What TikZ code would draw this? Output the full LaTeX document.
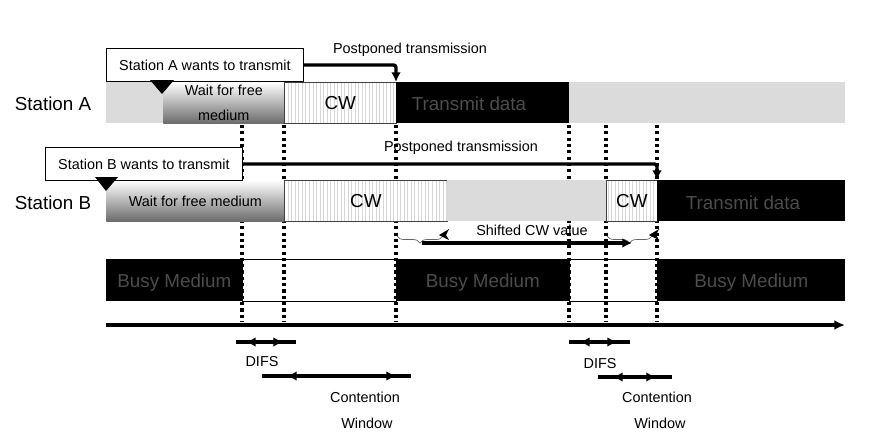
\documentclass[tikz,border=0pt]{standalone}
\usepackage{fontspec}
\setmainfont{Liberation Sans}
\usetikzlibrary{arrows.meta,patterns.meta,decorations.pathreplacing}

\begin{document}
\begin{tikzpicture}[x=0.02cm, y=-0.02cm,
        small/.style = {font=\fontsize{8.2}{10}\selectfont},
        big/.style = {font=\fontsize{10.7}{13}\selectfont},
        box/.style = {anchor=north west, inner sep=0, minimum height=0.82cm},
        bg/.style = {box, fill=black!14},
        wait/.style = {box, top color=white, bottom color=black!58, small},
        cw/.style = {box, draw=black!75, line width=0.4pt, preaction={fill=white},
                pattern={Lines[angle=90,distance=2pt,line width=0.25pt]}, pattern color=black!16, big},
        data/.style = {box, fill=black},
        busy/.style = {box, minimum height=0.84cm, fill=black, text=black!70, big, text depth=-1pt},
        idle/.style = {box, minimum height=0.84cm, draw, line width=0.4pt},
        want/.style = {anchor=north west, draw, fill=white, line width=0.5pt, inner sep=0,
                minimum width=3.94cm, minimum height=0.66cm, small},
        post/.style = {line width=1.9pt, rounded corners=1.5pt, -{Latex[length=5.5pt,width=5.5pt]}},
        vline/.style = {line width=1.9pt, dash pattern=on 1.8pt off 1.8pt},
        dim/.style = {line width=1.9pt},
        tips/.style = {line width=1.9pt, {Latex[length=5.5pt,width=5.5pt]}-{Latex[length=5.5pt,width=5.5pt]}},
        curly/.style = {decorate, decoration={brace, amplitude=4pt, mirror}, draw=black!60, line width=0.4pt},
        ]
        \useasboundingbox (0,0) rectangle (878,440);

        % medium
        \node[busy, minimum width=2.72cm](busy1) at (106,259) {Busy Medium};
        \node[idle, minimum width=3.08cm](idle1) at (242,259) {};
        \node[busy, minimum width=3.46cm](busy2) at (396,259) {Busy Medium};
        \node[idle, minimum width=1.76cm](idle2) at (569,259) {};
        \node[busy, minimum width=3.76cm](busy3) at (657,259) {Busy Medium};

        % slot borders
        \draw[vline] (242,125) -- (242,322);
        \draw[vline] (284,125) -- (284,322);
        \draw[vline] (396,125) -- (396,322);
        \draw[vline] (569,125) -- (569,322);
        \draw[vline] (606,125) -- (606,322);
        \draw[vline] (657,125) -- (657,322);

        % station A
        \node[big](labA) at (53,104) {Station A};
        \node[bg, minimum width=14.78cm](bgA) at (106,82) {};
        \node[wait, minimum width=2.42cm, align=center, font=\fontsize{8.2}{14.7}\selectfont](waitA) at (163,82) {Wait for free\\medium};
        \node[cw, minimum width=2.24cm](cwA) at (284,82) {CW};
        \node[data, minimum width=3.46cm](datA) at (396,82) {};
        \node[big, text=black!70](txA) at (469,104) {Transmit data};

        % station B
        \node[big](labB) at (53,203) {Station B};
        \node[wait, minimum width=3.56cm](waitB) at (106,180) {Wait for free medium};
        \node[cw, minimum width=3.26cm](cwB) at (284,180) {CW};
        \node[bg, minimum width=3.18cm](gapB) at (447,180) {};
        \node[cw, minimum width=1.02cm](cwB2) at (606,180) {CW};
        \node[data, minimum width=3.76cm](datB) at (657,180) {};
        \node[big, text=black!70](txB) at (743,203) {Transmit data};

        % requests
        \node[want](wantA) at (106,48) {Station A wants to transmit};
        \node[want](wantB) at (45,147) {Station B wants to transmit};
        \fill (150,80) -- (174,80) -- (162,94) -- cycle;
        \fill (95,177) -- (118,177) -- (106,191) -- cycle;

        \draw[post] (wantA.east) -| (datA.north west);
        \node[small](postA) at (410,50) {Postponed transmission};
        \draw[post] (wantB.east) -| (datB.north west);
        \node[small](postB) at (461,148) {Postponed transmission};

        % shifted contention window
        \draw[curly] (397,236) -- (443,236);
        \draw[curly] (607,236) -- (652,236);
        \coordinate (s1) at (422,243);
        \coordinate (s2) at (632,243);
        \fill (449,229) -- (439,235) -- (449,240) -- (446,235) -- cycle;
        \fill (659,229) -- (649,235) -- (659,240) -- (656,235) -- cycle;
        \draw[dim, -{Latex[length=5.5pt,width=5.5pt]}] (s1) -- (s2);
        \node[small](shift) at (532,230) {Shifted CW value};

        % time axis
        \coordinate (t0) at (106,325);
        \coordinate (t1) at (845,325);
        \draw[dim, -{Latex[length=6pt,width=5.5pt]}] (t0) -- (t1);

        % intervals
        \draw[dim] (236,342) -- (296,342);
        \draw[tips] (246,342) -- (283,342);
        \node[small](difsA) at (262,362) {DIFS};
        \draw[dim] (262,376) -- (411,376);
        \draw[tips] (287,376) -- (396,376);
        \node[small](contA) at (365,397) {Contention};
        \node[small](winA) at (367,423) {Window};

        \draw[dim] (569,342) -- (630,342);
        \draw[tips] (580,342) -- (617,342);
        \node[small](difsB) at (600,364) {DIFS};
        \draw[dim] (598,377) -- (672,377);
        \draw[tips] (613,377) -- (656,377);
        \node[small](contB) at (657,397) {Contention};
        \node[small](winB) at (660,423) {Window};

        \end{tikzpicture}
\end{document}
